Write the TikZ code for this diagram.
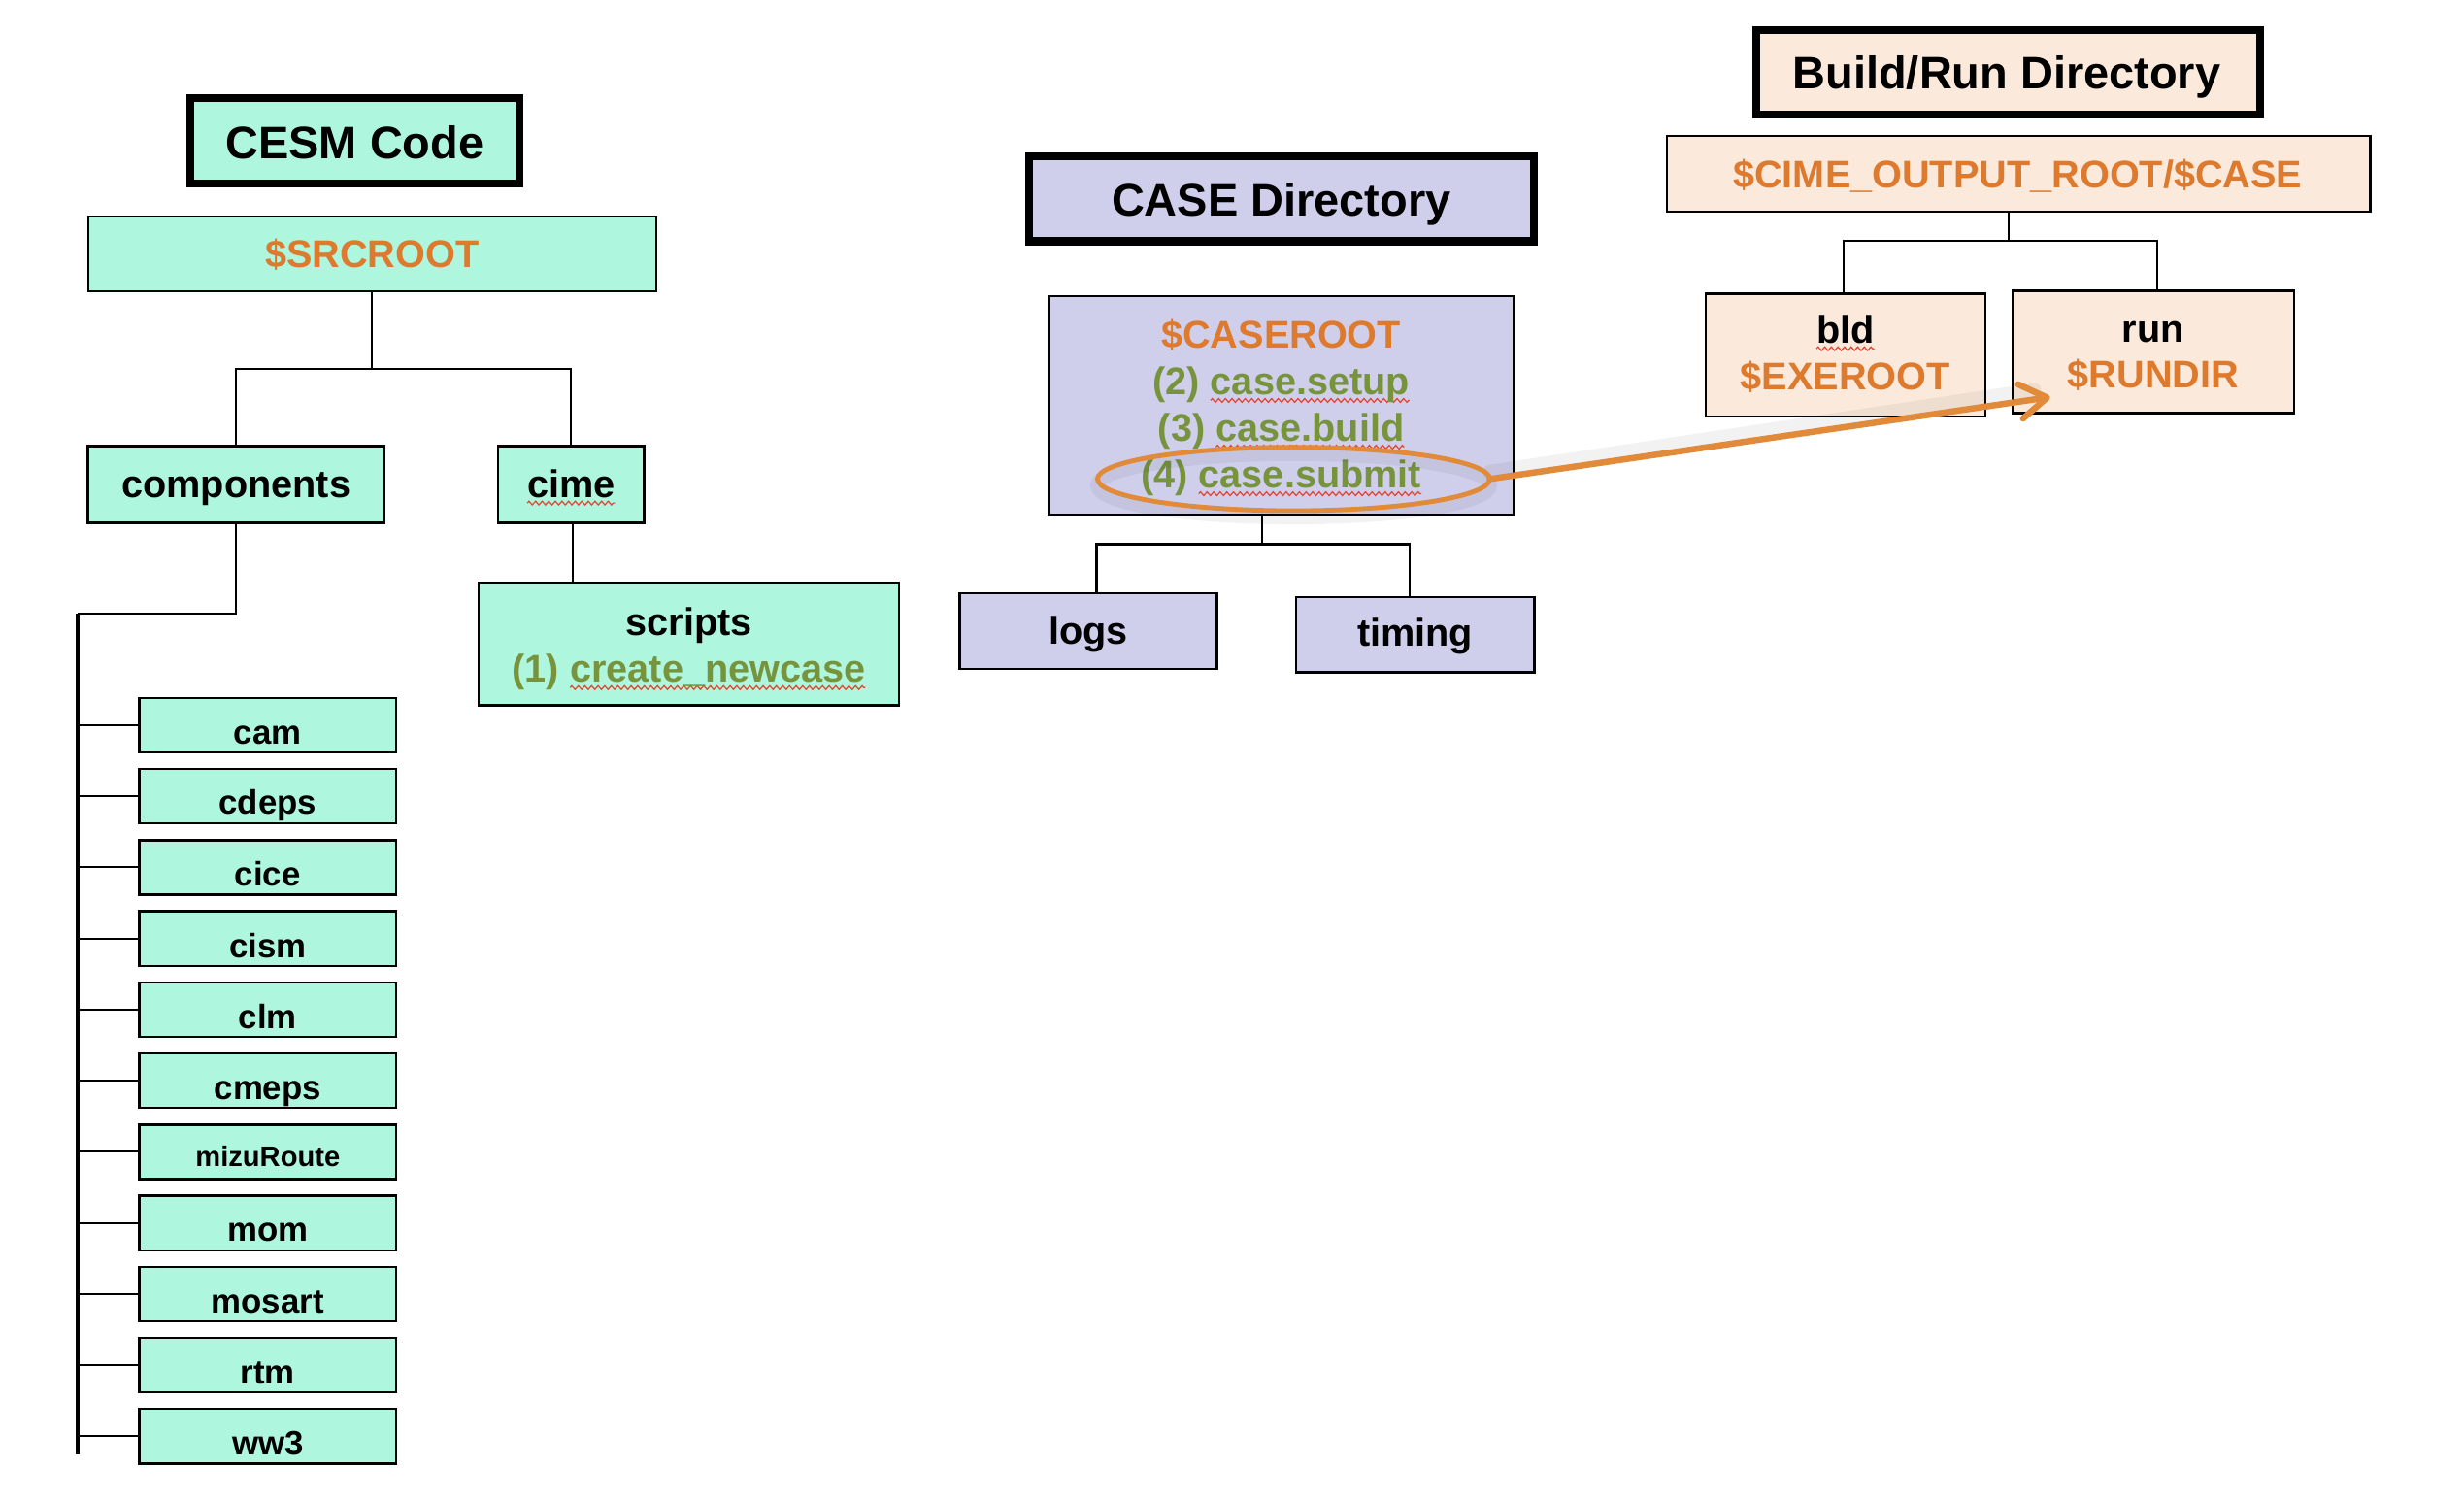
\documentclass[tikz,border=0pt]{standalone}
\usepackage{fontspec}
\setmainfont{Liberation Sans}
\usetikzlibrary{shapes.geometric,arrows.meta,decorations.pathmorphing}
\definecolor{mint}{HTML}{AEF6DE}
\definecolor{lav}{HTML}{CFCFEC}
\definecolor{peach}{HTML}{FBEADC}
\definecolor{orT}{HTML}{DD7A2D}
\definecolor{grT}{HTML}{77933C}
\definecolor{ellC}{HTML}{E08A3A}
\definecolor{sqRed}{HTML}{E5452E}
\newlength\sqlen
\newcommand\sq[1]{\settowidth\sqlen{#1}\tikz[overlay,baseline=0pt]\draw[squig](0pt,-3.6pt)--(\sqlen,-3.6pt);#1}
\tikzset{
  squig/.style={sqRed, line width=0.75pt, decorate, decoration={zigzag,segment length=4.2pt,amplitude=1.2pt}},
  box/.style={draw=black, line width=1.5pt, inner sep=0pt, outer sep=0pt},
  ttl/.style={draw=black, line width=5pt, inner sep=0pt, outer sep=0pt},
  lbl/.style={anchor=base, inner sep=0pt, outer sep=0pt},
  fmain/.style={font=\fontsize{24.5}{29}\selectfont\bfseries},
  ftitle/.style={font=\fontsize{29}{34}\selectfont\bfseries},
  conn/.style={draw=black, line width=1.3pt},
  trunk/.style={draw=black, line width=2pt},
  tick/.style={draw=black, line width=1.3pt},
  arr/.style={draw=ellC, line width=4pt, line cap=round,
    -{Straight Barb[length=17pt,width=22pt,line cap=round,line join=round]}},
  shad/.style={draw=black, opacity=0.05, line width=9pt, line cap=round},
}
\begin{document}
\begin{tikzpicture}[x=1pt,y=-1pt]
\useasboundingbox (0,0) rectangle (1568,954);

% ---------- CESM Code ----------
\node[ttl, fill=mint, minimum width=209.2pt, minimum height=54.5pt] (cesmT) at (225.8,89.45) {};
\node[lbl, ftitle] (cesmTt) at (225.8,100.7) {CESM Code};

\node[box, fill=mint, minimum width=361.5pt, minimum height=47.8pt] (src) at (236.8,161.6) {};
\node[lbl, fmain, text=orT] (srct) at (236.8,169.9) {\$SRCROOT};

\node[box, fill=mint, minimum width=188.7pt, minimum height=48.6pt] (comp) at (150.3,308.3) {};
\node[lbl, fmain] (compt) at (150.3,316.5) {components};

\node[box, fill=mint, minimum width=93pt, minimum height=48.6pt] (cime) at (363.5,308.3) {};
\node[lbl, fmain] (cimet) at (363.5,316.5) {\sq{cime}};

\node[box, fill=mint, minimum width=267.6pt, minimum height=77.7pt] (scripts) at (438.4,409.9) {};
\node[lbl, fmain] (scriptst) at (438.4,404.5) {scripts};
\node[lbl, fmain, text=grT] (cnew) at (438.4,434) {(1) \sq{create\_newcase}};

\coordinate (j1) at (236.8,234.5);
\draw[conn] (src.south) -- (j1);
\draw[conn] (comp.north) |- (j1) -| (cime.north);
\draw[conn] ([xshift=1.2pt]cime.south) -- ([xshift=1.2pt]cime.south |- scripts.north);

\coordinate (j2) at (49.4,390.4);
\coordinate (tEnd) at (49.4,925.5);
\draw[conn] (comp.south) |- (j2);
\draw[trunk] (j2) -- (tEnd);

\foreach \n/\fs/\off [count=\i from 0] in
  {cam/21.5/29.3, cdeps/21.5/28.6, cice/21.5/29.2, cism/21.5/29.6, clm/21.5/29.3,
   cmeps/21.5/29.3, mizuRoute/18/26.4, mom/21.5/29.3, mosart/21.5/29.3, rtm/21.5/29.3, ww3/21.5/29.3} {
  \pgfmathsetmacro\cy{461.45+45.25*\i}
  \pgfmathsetmacro\by{444.1+45.25*\i+\off}
  \node[box, fill=mint, minimum width=163.6pt, minimum height=34.7pt] (c\i) at (170.4,\cy) {};
  \node[lbl, font=\fontsize{\fs}{\fs}\selectfont\bfseries] (ct\i) at (170.4,\by) {\n};
  \draw[tick] (c\i.west -| j2) -- (c\i.west);
}

% ---------- CASE Directory ----------
\node[ttl, fill=lav, minimum width=321.2pt, minimum height=54.1pt] (caseT) at (815.4,126.45) {};
\node[lbl, ftitle] (caseTt) at (815.4,137.5) {CASE Directory};

\node[box, fill=lav, minimum width=295.5pt, minimum height=138.8pt] (caseroot) at (815.35,257.9) {};
\node[lbl, fmain, text=orT] (crt) at (815.3,221.5) {\$CASEROOT};
\node[lbl, fmain, text=grT] (cs2) at (815.3,251.2) {(2) \sq{case.setup}};
\node[lbl, fmain, text=grT] (cs3) at (815.3,280.9) {(3) \sq{case.build}};
\node[lbl, fmain, text=grT] (cs4) at (815.3,310.6) {(4) \sq{case.submit}};

\node[box, fill=lav, minimum width=163.8pt, minimum height=48pt] (logs) at (692.5,401.6) {};
\node[lbl, fmain] (logst) at (692.5,409.7) {logs};
\node[box, fill=lav, minimum width=151.7pt, minimum height=47.7pt] (timing) at (900.5,403.9) {};
\node[lbl, fmain] (timingt) at (900.5,411.3) {timing};

\coordinate (j3) at (803.4,346.3);
\draw[conn] (j3 |- caseroot.south) -- (j3);
\draw[conn] ([xshift=5.3pt]logs.north) |- (j3) -| ([xshift=-3.3pt]timing.north);

% ---------- Build/Run Directory ----------
\node[ttl, fill=peach, minimum width=321pt, minimum height=54pt] (brT) at (1278,46) {};
\node[lbl, ftitle] (brTt) at (1277,56.6) {Build/Run Directory};

\node[box, fill=peach, minimum width=447.8pt, minimum height=48.2pt] (cout) at (1284.5,110.6) {};
\node[lbl, fmain, text=orT] (coutt) at (1284,119.4) {\$CIME\_OUTPUT\_ROOT/\$CASE};

\node[box, fill=peach, minimum width=177.8pt, minimum height=78pt] (bld) at (1174.5,226) {};
\node[lbl, fmain] (bldt) at (1174.3,218.3) {\sq{bld}};
\node[lbl, fmain, text=orT] (exet) at (1174.3,248.2) {\$EXEROOT};

\node[box, fill=peach, minimum width=179.4pt, minimum height=78.1pt] (run) at (1370.3,223.95) {};
\node[lbl, fmain] (runt) at (1370.2,217.9) {run};
\node[lbl, fmain, text=orT] (rundt) at (1370.2,247.1) {\$RUNDIR};

\coordinate (j4) at (1278,153.4);
\draw[conn] (j4 |- cout.south) -- (j4);
\draw[conn] ([xshift=-1.1pt]bld.north) |- (j4) -| ([xshift=2.7pt]run.north);

% ---------- highlight and arrow ----------
\node[ellipse, minimum width=249.6pt, minimum height=40.4pt, inner sep=0pt, outer sep=0pt] (ell) at (823.2,304.8) {};
\coordinate (tip) at (1304.6,252.7);
\draw[shad] (823.2,309) ellipse [x radius=124.8pt, y radius=20.2pt];
\draw[shad] ([yshift=4.5pt]ell.east) -- ([yshift=4.5pt,xshift=-10pt]tip);
\draw[ellC, line width=3pt] (ell.center) ellipse [x radius=124.8pt, y radius=20.2pt];
\draw[arr] (ell.east) -- (tip);
\end{tikzpicture}
\end{document}
